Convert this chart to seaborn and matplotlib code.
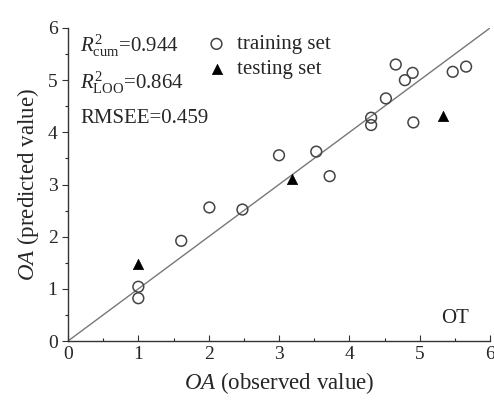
import matplotlib
matplotlib.use("Agg")
import matplotlib.pyplot as plt
import seaborn as sns
import numpy as np
import pandas as pd

# data
train_obs = [1.0, 1.0, 1.61, 2.01, 2.48, 3.0, 3.53, 3.72, 4.31, 4.31, 4.52, 4.66, 4.79, 4.90, 4.91, 5.47, 5.66]
train_pred = [0.82, 1.04, 1.92, 2.56, 2.52, 3.56, 3.63, 3.16, 4.28, 4.14, 4.65, 5.30, 5.00, 5.14, 4.19, 5.16, 5.26]
test_obs = [1.0, 3.19, 5.33]
test_pred = [1.48, 3.11, 4.31]
ticks = [0, 1, 2, 3, 4, 5, 6]

sns.set_style("ticks")
plt.rcParams['font.family'] = ['Liberation Serif', 'DejaVu Serif']
plt.rcParams['mathtext.fontset'] = 'custom'
plt.rcParams['mathtext.rm'] = 'Liberation Serif'
plt.rcParams['mathtext.it'] = 'Liberation Serif:italic'
plt.rcParams['mathtext.bf'] = 'Liberation Serif:bold'

fig = plt.figure(figsize=(4.94, 4.05), dpi=100)
ax = fig.add_axes([68/494, 64/405, 422/494, 313/405])

df_train = pd.DataFrame({"obs": train_obs, "pred": train_pred})
df_test = pd.DataFrame({"obs": test_obs, "pred": test_pred})

ax.plot([0, 6], [0, 6], color="#777777", lw=1.0, zorder=1)
sns.scatterplot(data=df_train, x="obs", y="pred", ax=ax, marker="o", s=60,
                facecolor="none", edgecolor="#444444", linewidth=1.1,
                label="training set", zorder=3)
sns.scatterplot(data=df_test, x="obs", y="pred", ax=ax, marker="^", s=55,
                color="black", edgecolor="black", linewidth=0.5,
                label="testing set", zorder=3)

ax.set_xlim(0, 6)
ax.set_ylim(0, 6)
ax.set_xticks(ticks)
ax.set_yticks(ticks)
ax.set_xticks(np.arange(0.5, 6, 1), minor=True)
ax.set_yticks(np.arange(0.5, 6, 1), minor=True)
ax.tick_params(axis='both', which='major', labelsize=14, length=4, width=0.8, color="#333333")
ax.tick_params(axis='x', which='both', direction='in')
ax.tick_params(axis='y', which='both', direction='out')
ax.tick_params(axis='both', which='minor', length=2.5, width=0.8)
for sp in ['top', 'right']:
    ax.spines[sp].set_visible(False)
for sp in ['left', 'bottom']:
    ax.spines[sp].set_linewidth(1.0)
    ax.spines[sp].set_color("#333333")

ax.set_xlabel(r"$\it{OA}$ (observed value)", fontsize=16.5, labelpad=5)
ax.set_ylabel(r"$\it{OA}$ (predicted value)", fontsize=16.5, labelpad=5)

ax.text(0.17, 5.66, r"$R^2_{\rm cum}$=0.944", fontsize=15, va='center', ha='left')
ax.text(0.17, 4.95, r"$R^2_{\rm LOO}$=0.864", fontsize=15, va='center', ha='left')
ax.text(0.17, 4.27, "RMSEE=0.459", fontsize=15, va='center', ha='left')
ax.text(5.5, 0.44, "OT", fontsize=15, va='center', ha='center')

leg = ax.legend(loc='upper left', bbox_to_anchor=(0.305, 1.005), frameon=False,
                fontsize=15, handletextpad=0.45, labelspacing=0.25,
                borderaxespad=0, handlelength=1.1)

fig.savefig("out.png", dpi=100)
